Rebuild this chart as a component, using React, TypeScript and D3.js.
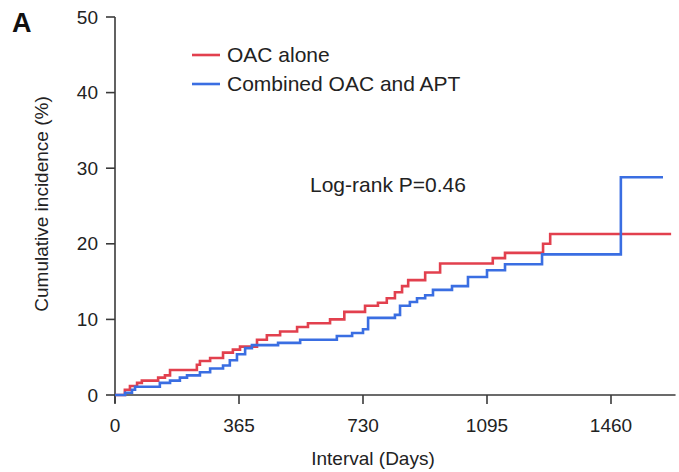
import React from "react";
import * as d3 from "d3";

// step points: [day, cumulative incidence %]
const oacAlone: [number, number][] = [
  [0, 0], [29, 0.7], [44, 1.2], [65, 1.6], [79, 1.9], [127, 2.3], [147, 2.6],
  [162, 3.3], [241, 4.0], [250, 4.5], [280, 4.9], [318, 5.6], [347, 6.0],
  [368, 6.4], [418, 7.3], [447, 7.9], [486, 8.4], [536, 9.0], [568, 9.5],
  [633, 10.0], [675, 11.0], [736, 11.8], [774, 12.2], [800, 12.8], [824, 13.6],
  [845, 14.4], [863, 15.2], [913, 16.2], [957, 17.4], [1112, 18.1],
  [1148, 18.8], [1260, 20.0], [1281, 21.3], [1637, 21.3],
];

const combined: [number, number][] = [
  [0, 0], [30, 0.3], [50, 0.7], [59, 1.1], [132, 1.6], [162, 1.9], [191, 2.3],
  [212, 2.6], [250, 3.0], [280, 3.5], [318, 3.9], [338, 4.6], [359, 5.4],
  [383, 6.2], [403, 6.6], [480, 6.9], [545, 7.3], [653, 7.8], [698, 8.2],
  [730, 8.7], [745, 10.2], [824, 10.6], [839, 11.8], [868, 12.3], [889, 12.8],
  [913, 13.2], [936, 13.9], [992, 14.4], [1039, 15.6], [1095, 16.5],
  [1148, 17.3], [1257, 18.6], [1489, 28.8], [1613, 28.8],
];

const xTicks = [0, 365, 730, 1095, 1460];
const yTicks = [0, 10, 20, 30, 40, 50];
const seriesNames = ["OAC alone", "Combined OAC and APT"];
const seriesColors = ["#e2404e", "#3a6ee2"];

const W = 679;
const H = 472;
const FONT = "'Liberation Sans', Arial, sans-serif";

export default function App() {
  const x = d3.scaleLinear().domain([0, 1460]).range([115, 611]);
  const y = d3.scaleLinear().domain([0, 50]).range([395, 17]);

  const line = d3
    .line<[number, number]>()
    .x((d) => x(d[0]))
    .y((d) => y(d[1]))
    .curve(d3.curveStepAfter);

  const axisColor = "#3a3a3a";
  const textColor = "#222";

  return (
    <svg
      width={W}
      height={H}
      style={{ position: "absolute", left: 0, top: 0, background: "#fff" }}
      fontFamily={FONT}
    >
      <text x={12} y={32} fontSize={27} fontWeight="bold" fill="#111">
        A
      </text>

      {/* y axis */}
      <line x1={x(0)} x2={x(0)} y1={y(50)} y2={y(0) + 8} stroke={axisColor} strokeWidth={1.6} />
      {yTicks.map((t) => (
        <g key={"y" + t}>
          <line x1={x(0) - 9} x2={x(0)} y1={y(t)} y2={y(t)} stroke={axisColor} strokeWidth={1.6} />
          <text
            x={98}
            y={y(t)}
            dy="0.35em"
            textAnchor="end"
            fontSize={19}
            fill={textColor}
          >
            {t}
          </text>
        </g>
      ))}
      <text
        transform={`translate(48,${(y(0) + y(50)) / 2 - 2}) rotate(-90)`}
        textAnchor="middle"
        fontSize={19}
        fill={textColor}
      >
        Cumulative incidence (%)
      </text>

      {/* x axis */}
      <line x1={x(0)} x2={x(1650)} y1={y(0)} y2={y(0)} stroke={axisColor} strokeWidth={1.6} />
      {xTicks.map((t) => (
        <g key={"x" + t}>
          <line x1={x(t)} x2={x(t)} y1={y(0)} y2={y(0) + 9} stroke={axisColor} strokeWidth={1.6} />
          <text x={x(t)} y={432} textAnchor="middle" fontSize={19} fill={textColor}>
            {t}
          </text>
        </g>
      ))}
      <text x={373} y={465} textAnchor="middle" fontSize={19} fill={textColor}>
        Interval (Days)
      </text>

      {/* curves */}
      {[oacAlone, combined].map((s, i) => (
        <path
          key={seriesNames[i]}
          d={line(s) || ""}
          fill="none"
          stroke={seriesColors[i]}
          strokeWidth={2.6}
        />
      ))}

      {/* legend */}
      {seriesNames.map((n, i) => (
        <g key={"leg" + n} transform={`translate(0,${55 + i * 29})`}>
          <line x1={192} x2={220} y1={0} y2={0} stroke={seriesColors[i]} strokeWidth={2.6} />
          <text x={227} y={0} dy="0.35em" fontSize={21} fill={textColor}>
            {n}
          </text>
        </g>
      ))}

      <text x={310} y={185} dy="0.35em" fontSize={21} fill={textColor}>
        Log-rank P=0.46
      </text>
    </svg>
  );
}
